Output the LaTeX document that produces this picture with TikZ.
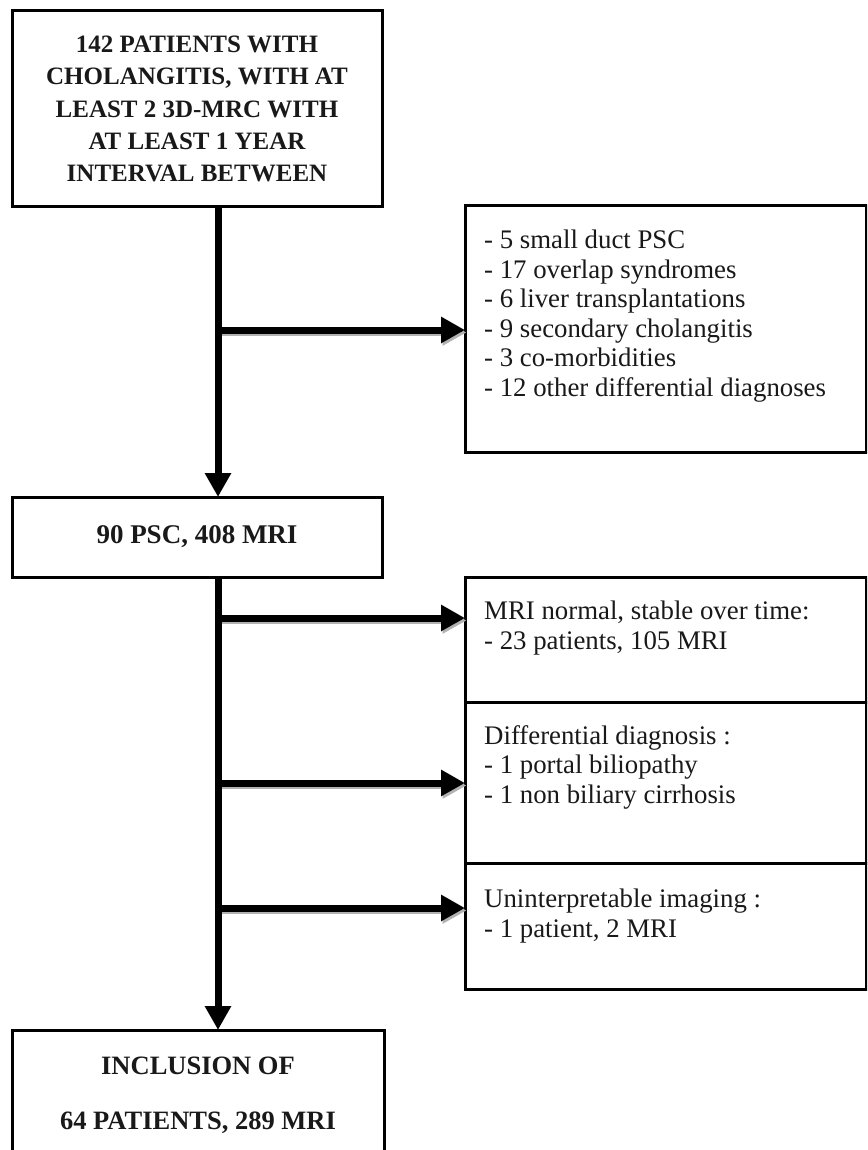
\documentclass[tikz,border=0pt]{standalone}
\usepackage{fontspec}
\setmainfont{Liberation Serif}
\usetikzlibrary{arrows.meta}
\begin{document}
\begin{tikzpicture}[x=1pt,y=-1pt,
  box/.style={draw=black, line width=3pt, fill=white, rectangle, inner sep=0pt, outer sep=0pt},
  boldtxt/.style={font=\bfseries\fontsize{25}{32.3}\selectfont, align=center, text=black!90},
  listtxt/.style={font=\fontsize{26.8}{29.5}\selectfont, align=left, anchor=north west, inner sep=0pt, text=black!90},
  flow/.style={line width=7pt, -{Triangle[width=25pt,length=24pt]}},
  flowshadow/.style={line width=7pt, draw=black!30, -{Triangle[width=25pt,length=24pt]}}
]
\useasboundingbox (0,0) rectangle (867,1150);
\clip (0,0) rectangle (867,1150);

% left column boxes
\node[box, minimum width=370pt, minimum height=196pt, boldtxt] (top) at (197,109)
  {142 PATIENTS WITH\\CHOLANGITIS, WITH AT\\LEAST 2 3D-MRC WITH\\AT LEAST 1 YEAR\\INTERVAL BETWEEN};
\node[box, minimum width=370pt, minimum height=80pt, boldtxt, font=\bfseries\fontsize{27}{30}\selectfont] (psc) at (197,537)
  {90 PSC, 408 MRI};
\node[box, minimum width=372pt, minimum height=130pt, boldtxt, font=\bfseries\fontsize{26.5}{55}\selectfont] (incl) at (198,1095)
  {INCLUSION OF\\64 PATIENTS, 289 MRI};

% right column boxes
\node[box, minimum width=401pt, minimum height=246pt] (excl) at (665.5,329) {};
\node[box, minimum width=401pt, minimum height=125pt] (normal) at (665.5,639.5) {};
\node[box, minimum width=401pt, minimum height=161pt] (diff) at (665.5,782.5) {};
\node[box, minimum width=401pt, minimum height=126pt] (unint) at (665.5,926) {};

\node[listtxt] (excltxt) at ([xshift=19pt,yshift=-24pt]excl.north west)
  {- 5 small duct PSC\\- 17 overlap syndromes\\- 6 liver transplantations\\- 9 secondary cholangitis\\- 3 co-morbidities\\- 12 other differential diagnoses};
\node[listtxt] (normaltxt) at ([xshift=19pt,yshift=-24pt]normal.north west)
  {MRI normal, stable over time:\\- 23 patients, 105 MRI};
\node[listtxt] (difftxt) at ([xshift=19pt,yshift=-23pt]diff.north west)
  {Differential diagnosis :\\- 1 portal biliopathy\\- 1 non biliary cirrhosis};
\node[listtxt] (uninttxt) at ([xshift=19pt,yshift=-26pt]unint.north west)
  {Uninterpretable imaging :\\- 1 patient, 2 MRI};

% branch points
\coordinate (v1) at ([xshift=21pt]top.south);
\coordinate (v2) at ([xshift=21pt]psc.south);
\coordinate (b1) at (218,330);
\coordinate (b2) at (218,618);
\coordinate (b3) at (218,783);
\coordinate (b4) at (218,908);

% shadows of horizontal arrows
\begin{scope}[transform canvas={shift={(1.5pt,-2.5pt)}}]
  \draw[flowshadow] (b1) -- (b1 -| excl.west);
  \draw[flowshadow] (b2) -- (b2 -| normal.west);
  \draw[flowshadow] (b3) -- (b3 -| diff.west);
  \draw[flowshadow] (b4) -- (b4 -| unint.west);
\end{scope}

% horizontal arrows
\draw[flow] (b1) -- (b1 -| excl.west);
\draw[flow] (b2) -- (b2 -| normal.west);
\draw[flow] (b3) -- (b3 -| diff.west);
\draw[flow] (b4) -- (b4 -| unint.west);

% vertical arrows
\draw[flow] (v1) -- (v1 |- psc.north);
\draw[flow] (v2) -- (v2 |- incl.north);
\end{tikzpicture}
\end{document}
